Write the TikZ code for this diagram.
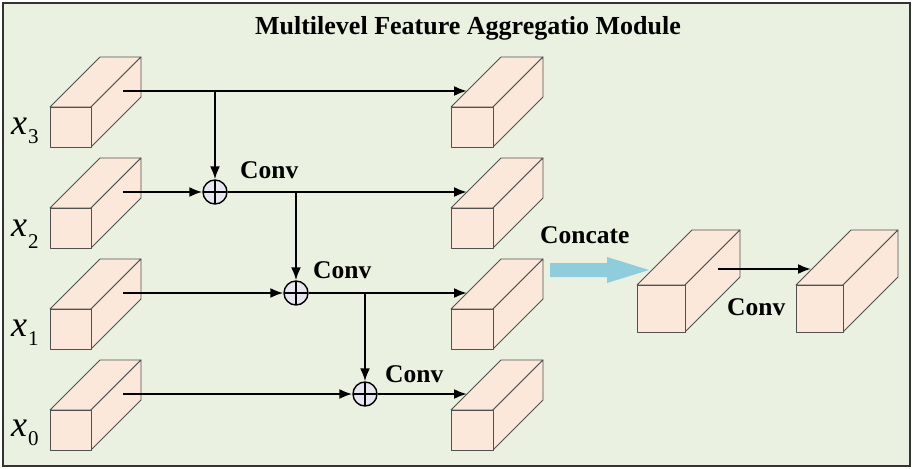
\documentclass[tikz,border=0pt]{standalone}
\usepackage{fontspec}
\setmainfont{Liberation Serif}
\usetikzlibrary{arrows.meta}
\definecolor{bg}{HTML}{EBF1E0}
\definecolor{boxc}{HTML}{FBE8DB}
\definecolor{edgec}{HTML}{505050}
\definecolor{plusc}{HTML}{E8E6F0}
\definecolor{bluec}{HTML}{8FCCDC}
% name, x, y (front top left), width, height, depth offset
\newcommand\drawcube[6]{%
  \coordinate (#1-ftl) at (#2,#3);
  \coordinate (#1-ftr) at (#2+#4,#3);
  \coordinate (#1-fbl) at (#2,#3+#5);
  \coordinate (#1-fbr) at (#2+#4,#3+#5);
  \coordinate (#1-btl) at (#2+#6,#3-#6);
  \coordinate (#1-btr) at (#2+#4+#6,#3-#6);
  \coordinate (#1-bbr) at (#2+#4+#6,#3+#5-#6);
  \filldraw[cubeface] (#1-ftl) -- (#1-btl) -- (#1-btr) -- (#1-ftr) -- cycle;
  \filldraw[cubeface] (#1-ftr) -- (#1-btr) -- (#1-bbr) -- (#1-fbr) -- cycle;
  \filldraw[cubeface] (#1-ftl) rectangle (#1-fbr);
}
\begin{document}
\begin{tikzpicture}[x=1pt,y=-1pt,
  cubeface/.style={fill=boxc,draw=edgec,line width=0.8pt,line join=round},
  conn/.style={line width=2.1pt,-{Latex[length=13pt,width=10pt]}},
  opl/.style={circle,draw,fill=plusc,line width=1.4pt,minimum size=24pt,inner sep=0pt,
    path picture={\draw[line width=1.4pt] (path picture bounding box.north) -- (path picture bounding box.south)
      (path picture bounding box.west) -- (path picture bounding box.east);}},
  lbl/.style={font=\fontsize{25.5}{28}\selectfont\bfseries,inner sep=0pt,anchor=base west},
  xlab/.style={inner sep=0pt,anchor=base west}]
\useasboundingbox (0,0) rectangle (914,469);
\fill[white] (0,0) rectangle (914,469);
\draw[fill=bg,draw=black!80,line width=1.2pt] (3,3) rectangle (910,466);

\node[font=\fontsize{26}{30}\selectfont\bfseries,inner sep=0pt,anchor=base] (title) at (468,34) {Multilevel Feature Aggregatio Module};

% left column
\drawcube{L3}{50}{107}{41}{40}{50}
\drawcube{L2}{50}{208}{41}{40}{50}
\drawcube{L1}{50}{309}{41}{40}{50}
\drawcube{L0}{50}{410}{41}{40}{50}
% right column
\drawcube{R3}{451}{107}{42}{40}{50}
\drawcube{R2}{451}{208}{42}{40}{50}
\drawcube{R1}{451}{309}{42}{40}{50}
\drawcube{R0}{451}{410}{42}{40}{50}
% big cubes
\drawcube{B1}{637}{285}{48}{47}{55}
\drawcube{B2}{796}{285}{47}{47}{55}

% x labels
\node[xlab] (x3) at (11,134) {{\fontsize{36}{36}\selectfont\itshape x}\kern1pt\raisebox{-9pt}{\fontsize{21}{21}\selectfont 3}};
\node[xlab] (x2) at (11,236) {{\fontsize{36}{36}\selectfont\itshape x}\kern1pt\raisebox{-12pt}{\fontsize{21}{21}\selectfont 2}};
\node[xlab] (x1) at (11,336) {{\fontsize{36}{36}\selectfont\itshape x}\kern1pt\raisebox{-9pt}{\fontsize{21}{21}\selectfont 1}};
\node[xlab] (x0) at (11,436) {{\fontsize{36}{36}\selectfont\itshape x}\kern1pt\raisebox{-9pt}{\fontsize{21}{21}\selectfont 0}};

% connector endpoints
\coordinate (L3s) at (123,91);
\coordinate (L2s) at (123,192);
\coordinate (L1s) at (123,293);
\coordinate (L0s) at (123,394);
\coordinate (R3in) at (467,91);
\coordinate (R2in) at (467,192);
\coordinate (R1in) at (467,293);
\coordinate (R0in) at (467,394);
\coordinate (B1s) at (718,269);
\coordinate (B2in) at (811,269);

% oplus nodes
\node[opl] (P2) at (215,192) {};
\node[opl] (P1) at (296,293) {};
\node[opl] (P0) at (365,394) {};

% connectors
\draw[conn] (L3s) -- (R3in);
\draw[conn] (P2 |- L3s) -- (P2);
\draw[conn] (L2s) -- (P2);
\draw[conn] (P2) -- (R2in);
\draw[conn] (P1 |- P2) -- (P1);
\draw[conn] (L1s) -- (P1);
\draw[conn] (P1) -- (R1in);
\draw[conn] (P0 |- P1) -- (P0);
\draw[conn] (L0s) -- (P0);
\draw[conn] (P0) -- (R0in);
\draw[conn] (B1s) -- (B2in);

% concate arrow
\fill[bluec] (550,263) -- (607,263) -- (607,257) -- (649,270) -- (607,283) -- (607,277) -- (550,277) -- cycle;

% labels
\node[lbl] (c2) at (240,178) {Conv};
\node[lbl] (c1) at (313,278) {Conv};
\node[lbl] (c0) at (385,382) {Conv};
\node[lbl] (cc) at (540,243) {Concate};
\node[lbl] (cb) at (727,315) {Conv};
\end{tikzpicture}
\end{document}
